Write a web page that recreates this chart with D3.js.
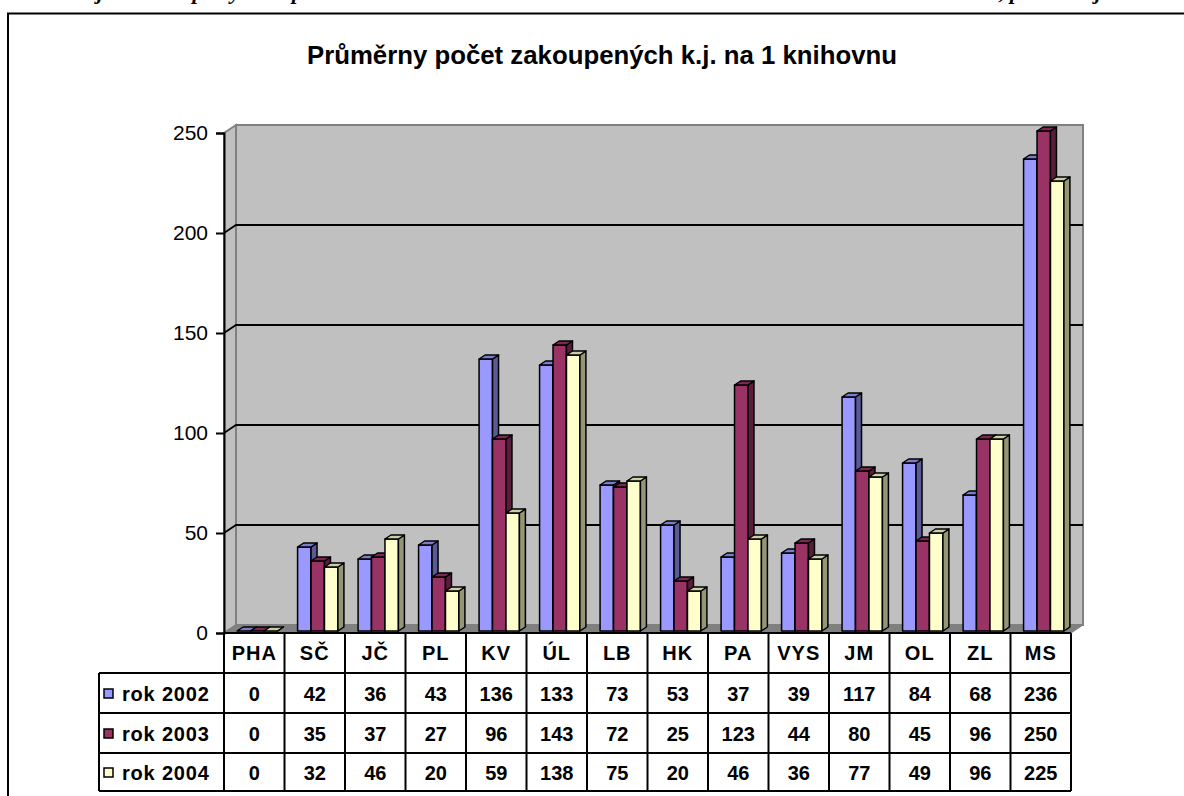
<!DOCTYPE html>
<html>
<head>
<meta charset="utf-8">
<script src="https://cdn.jsdelivr.net/npm/d3@7"></script>
<style>
  html, body { margin: 0; padding: 0; background: #fff; }
  svg { display: block; }
</style>
</head>
<body>
<svg id="chart" width="1184" height="796"></svg>
<script>
// data
var categories = ['PHA', 'SČ', 'JČ', 'PL', 'KV', 'ÚL', 'LB', 'HK', 'PA', 'VYS', 'JM', 'OL', 'ZL', 'MS'];
var seriesNames = ['rok 2002', 'rok 2003', 'rok 2004'];
var rok2002 = [0, 42, 36, 43, 136, 133, 73, 53, 37, 39, 117, 84, 68, 236];
var rok2003 = [0, 35, 37, 27, 96, 143, 72, 25, 123, 44, 80, 45, 96, 250];
var rok2004 = [0, 32, 46, 20, 59, 138, 75, 20, 46, 36, 77, 49, 96, 225];
var yTicks = [0, 50, 100, 150, 200, 250];

var seriesValues = [rok2002, rok2003, rok2004];

var svg = d3.select('#chart');
var font = "'Liberation Sans', Arial, sans-serif";

// depth of the 3D box (back wall offset)
var DX = 12, DY = -8;

var x = d3.scaleBand()
  .domain(categories)
  .range([224, 1071]);

var xs = d3.scaleBand()
  .domain(seriesNames)
  .range([0, x.bandwidth()])
  .paddingInner(0)
  .paddingOuter(0.75);

var y = d3.scaleLinear()
  .domain([0, 250])
  .range([633, 133]);

var color = d3.scaleOrdinal()
  .domain(seriesNames)
  .range(['#9999FF', '#993366', '#FFFFCC']);

var left = x.range()[0], right = x.range()[1];

// caption line above the chart frame, cut by the top of the page
svg.append('text')
  .attr('y', -1)
  .attr('font-family', "'Liberation Serif', 'Times New Roman', serif")
  .attr('font-weight', 'bold')
  .attr('font-style', 'italic')
  .attr('font-size', '22px')
  .call(function(t) {
    t.append('tspan').attr('x', 70).text('Objem');
    t.append('tspan').attr('x', 176).text('a počty nákupů');
    t.append('tspan').attr('x', 330).text('knihovních dokumentů obecních knihoven v letech 2002 – 2004');
    t.append('tspan').attr('x', 999).text(', podle krajů');
  });

// chart frame
svg.append('path')
  .attr('d', 'M8,796V13.5H1184')
  .attr('fill', 'none')
  .attr('stroke', '#000')
  .attr('stroke-width', 2);

// title
svg.append('text')
  .attr('x', 602)
  .attr('y', 64)
  .attr('text-anchor', 'middle')
  .attr('font-family', font)
  .attr('font-weight', 'bold')
  .attr('font-size', '26px')
  .attr('textLength', 590)
  .attr('lengthAdjust', 'spacingAndGlyphs')
  .text('Průměrny počet zakoupených k.j. na 1 knihovnu');

/* walls */
var walls = svg.append('g');

walls.append('rect')
  .attr('x', left + DX)
  .attr('y', y(250) + DY)
  .attr('width', right - left)
  .attr('height', y(0) - y(250))
  .attr('fill', '#C0C0C0')
  .attr('stroke', '#808080')
  .attr('stroke-width', 2);

walls.append('polygon')
  .attr('points', [[left, y(0)], [left, y(250)], [left + DX, y(250) + DY], [left + DX, y(0) + DY]].join(' '))
  .attr('fill', '#C0C0C0')
  .attr('stroke', '#808080')
  .attr('stroke-width', 2);

walls.append('polygon')
  .attr('points', [[left, y(0)], [right, y(0)], [right + DX, y(0) + DY], [left + DX, y(0) + DY]].join(' '))
  .attr('fill', '#808080')
  .attr('stroke', '#808080')
  .attr('stroke-width', 1);

// gridlines on side and back wall
var grid = yTicks.filter(function(v) { return v > 0 && v < 250; });
walls.selectAll('.grid')
  .data(grid)
  .enter()
  .append('path')
  .attr('class', 'grid')
  .attr('d', function(v) {
    return 'M' + left + ',' + y(v) + 'L' + (left + DX) + ',' + (y(v) + DY) + 'H' + (right + DX);
  })
  .attr('fill', 'none')
  .attr('stroke', '#000')
  .attr('stroke-width', 1.8);

/* bars */
var bars = [];
categories.forEach(function(c, i) {
  seriesNames.forEach(function(s, j) {
    bars.push({cat: c, ser: s, v: seriesValues[j][i]});
  });
});

var w = xs.bandwidth();
var fdx = DX * 0.25, fdy = DY * 0.25;   // front face sits a quarter into the depth
var ddx = DX * 0.5, ddy = DY * 0.5;     // bar depth

var bar = svg.append('g')
  .selectAll('g')
  .data(bars)
  .enter()
  .append('g')
  .attr('stroke', '#000')
  .attr('stroke-width', 1.5)
  .attr('stroke-linejoin', 'round');

bar.each(function(d) {
  var g = d3.select(this);
  var x0 = x(d.cat) + xs(d.ser) + fdx;
  var yb = y(0) + fdy;
  var yt = y(d.v) + fdy;
  var c = d3.color(color(d.ser));

  g.append('rect')
    .attr('x', x0)
    .attr('y', yt)
    .attr('width', w)
    .attr('height', yb - yt)
    .attr('fill', c.formatHex());

  g.append('polygon')
    .attr('points', [[x0 + w, yt], [x0 + w + ddx, yt + ddy], [x0 + w + ddx, yb + ddy], [x0 + w, yb]].join(' '))
    .attr('fill', c.darker(1.5).formatHex());

  g.append('polygon')
    .attr('points', [[x0, yt], [x0 + w, yt], [x0 + w + ddx, yt + ddy], [x0 + ddx, yt + ddy]].join(' '))
    .attr('fill', c.darker(0.6).formatHex());
});

/* value axis */
var yAxis = d3.axisLeft(y)
  .tickValues(yTicks)
  .tickSize(8)
  .tickPadding(8)
  .tickFormat(d3.format('d'));

svg.append('g')
  .attr('transform', 'translate(' + left + ',0)')
  .call(yAxis)
  .call(function(g) {
    g.select('.domain').attr('stroke', '#000').attr('stroke-width', 2);
    g.selectAll('.tick line').attr('stroke', '#000').attr('stroke-width', 2);
    g.selectAll('.tick text')
      .attr('font-family', font)
      .attr('font-size', '21px')
      .attr('fill', '#000');
  });

/* data table */
var rowTop = [633, 673, 713, 753];
var rowBottom = [673, 713, 753, 791];
var tableLeft = 99;

var table = svg.append('g')
  .attr('font-family', font)
  .attr('font-weight', 'bold')
  .attr('font-size', '20px')
  .attr('fill', '#000');

// category header
table.selectAll('.cat')
  .data(categories)
  .enter()
  .append('text')
  .attr('class', 'cat')
  .attr('x', function(d) { return x(d) + x.bandwidth() / 2; })
  .attr('y', (rowTop[0] + rowBottom[0]) / 2)
  .attr('dy', '0.35em')
  .attr('text-anchor', 'middle')
  .attr('letter-spacing', '1px')
  .text(function(d) { return d; });

// series rows
seriesNames.forEach(function(s, j) {
  var cy = (rowTop[j + 1] + rowBottom[j + 1]) / 2 + 1;

  table.append('rect')
    .attr('x', 104)
    .attr('y', cy - 5)
    .attr('width', 9)
    .attr('height', 9)
    .attr('fill', color(s))
    .attr('stroke', '#000')
    .attr('stroke-width', 1.5);

  table.append('text')
    .attr('x', 122)
    .attr('y', cy)
    .attr('dy', '0.35em')
    .attr('letter-spacing', '0.8px')
    .text(s);

  table.selectAll('.v' + j)
    .data(seriesValues[j])
    .enter()
    .append('text')
    .attr('class', 'v' + j)
    .attr('x', function(d, i) { return x(categories[i]) + x.bandwidth() / 2; })
    .attr('y', cy)
    .attr('dy', '0.35em')
    .attr('text-anchor', 'middle')
    .text(function(d) { return d; });
});

// table grid
var lines = table.append('g')
  .attr('stroke', '#000')
  .attr('stroke-width', 2)
  .attr('fill', 'none');

lines.append('path').attr('d', 'M' + left + ',' + y(0) + 'H' + right);
rowBottom.forEach(function(yy) {
  lines.append('path').attr('d', 'M' + tableLeft + ',' + yy + 'H' + right);
});
lines.append('path').attr('d', 'M' + tableLeft + ',' + rowTop[1] + 'V' + rowBottom[3]);
categories.forEach(function(c) {
  lines.append('path').attr('d', 'M' + x(c) + ',' + rowTop[0] + 'V' + rowBottom[3]);
});
lines.append('path').attr('d', 'M' + right + ',' + rowTop[0] + 'V' + rowBottom[3]);
</script>
</body>
</html>
